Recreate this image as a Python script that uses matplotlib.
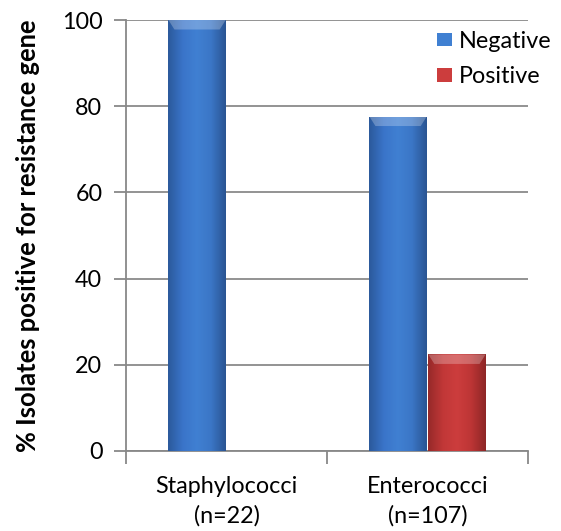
import numpy as np
import matplotlib
matplotlib.use("Agg")
import matplotlib.pyplot as plt
from matplotlib.colors import LinearSegmentedColormap

plt.rcParams['font.family'] = ['Lato', 'DejaVu Sans']

groups = ['Staphylococci\n(n=22)', 'Enterococci\n(n=107)']
negative = [100.0, 77.6]
positive = [0.0, 22.4]
series_names = ['Negative', 'Positive']

BAR_W = 0.285
blue_cm = LinearSegmentedColormap.from_list('b', ['#2c5a9c', '#3a74c9', '#4080d2', '#3b76c6', '#2a5593'])
red_cm = LinearSegmentedColormap.from_list('r', ['#962a2a', '#c13737', '#cc3d3d', '#bd3535', '#8e2626'])

fig = plt.figure(figsize=(5.61, 5.31), dpi=100)
ax = fig.add_axes([0.2246, 0.1507, 0.7166, 0.8116])

x = np.arange(len(groups))


def shaded_bars(xs, vals, cmap, label):
    bars = ax.bar(xs, vals, BAR_W, color=cmap(0.5), label=label, zorder=3,
                  edgecolor='none')
    grad = np.linspace(0, 1, 64).reshape(1, -1)
    for b in bars:
        h = b.get_height()
        if h <= 0:
            continue
        x0 = b.get_x()
        im = ax.imshow(grad, cmap=cmap, aspect='auto', zorder=4,
                       extent=[x0, x0 + b.get_width(), 0, h])
        im.set_clip_path(b)
        # light bevel along the top edge
        cap = min(2.2, h * 0.1)
        ax.fill([x0, x0 + b.get_width(), x0 + b.get_width() - 0.03, x0 + 0.03],
                [h, h, h - cap, h - cap], color='white', alpha=0.25,
                lw=0, zorder=5)
    return bars


shaded_bars(x - BAR_W / 2 - 0.004, negative, blue_cm, series_names[0])
shaded_bars(x + BAR_W / 2 + 0.004, positive, red_cm, series_names[1])

ax.set_xlim(-0.5, 1.5)
ax.set_ylim(0, 100)
ax.set_yticks(range(0, 101, 20))
ax.set_xticks([-0.5, 0.5, 1.5])
ax.set_xticklabels([])
ax.set_xticks(x, minor=True)
ax.set_xticklabels(groups, minor=True, fontsize=16.8, linespacing=1.45)
ax.tick_params(axis='x', which='minor', length=0, pad=18)
ax.tick_params(axis='x', which='major', direction='out', length=9,
               color='#888888', width=1.3)
ax.tick_params(axis='y', length=9, direction='out', color='#888888', width=1.3,
               labelsize=16.8, pad=8)
ax.yaxis.grid(True, color='#8a8a8a', lw=1.3, zorder=0)
ax.set_axisbelow(True)

for side in ['top', 'right']:
    ax.spines[side].set_visible(False)
for side in ['left', 'bottom']:
    ax.spines[side].set_color('#888888')
    ax.spines[side].set_linewidth(1.3)

ax.set_ylabel('% Isolates positive for resistance gene', fontsize=18.4,
              fontweight='bold')
ax.yaxis.set_label_coords(-0.214, 0.5)

leg = ax.legend(loc='upper left', bbox_to_anchor=(0.75, 0.997), frameon=False,
                fontsize=16.8, handlelength=0.65, handleheight=0.5,
                handletextpad=0.3, labelspacing=0.63, borderaxespad=0)

fig.savefig('out.png', dpi=100)
